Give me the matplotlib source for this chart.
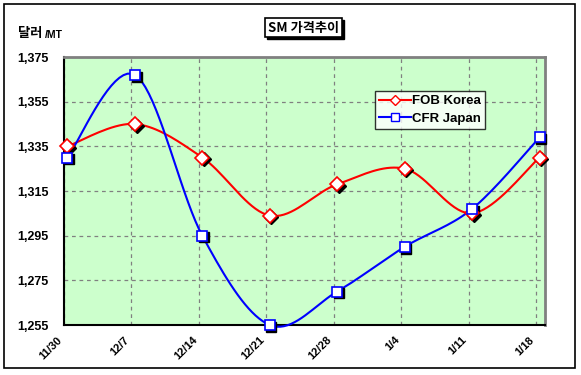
import numpy as np
import matplotlib
matplotlib.use('Agg')
import matplotlib.pyplot as plt
import matplotlib.transforms as mtransforms
from matplotlib.patches import Rectangle

plt.rcParams['font.family'] = ['Liberation Sans', 'Noto Sans CJK KR', 'DejaVu Sans']

dates = ['11/30', '12/7', '12/14', '12/21', '12/28', '1/4', '1/11', '1/18']
fob_korea = [1335, 1345, 1330, 1304, 1318, 1325, 1305, 1330]
cfr_japan = [1330, 1367, 1295, 1255, 1270, 1290, 1307, 1339]
yticks = [1255, 1275, 1295, 1315, 1335, 1355, 1375]


def smooth(x, y, n=20):
    # excel-like smoothed line (catmull-rom bezier)
    x = np.asarray(x, float)
    y = np.asarray(y, float)
    px = np.concatenate([[x[0]], x, [x[-1]]])
    py = np.concatenate([[y[0]], y, [y[-1]]])
    xs, ys = [], []
    t = np.linspace(0, 1, n)
    for i in range(1, len(px) - 2):
        p0 = np.array([px[i], py[i]])
        p3 = np.array([px[i + 1], py[i + 1]])
        p1 = p0 + (np.array([px[i + 1], py[i + 1]]) - np.array([px[i - 1], py[i - 1]])) / 6
        p2 = p3 - (np.array([px[i + 2], py[i + 2]]) - np.array([px[i], py[i]])) / 6
        b = ((1 - t) ** 3)[:, None] * p0 + (3 * (1 - t) ** 2 * t)[:, None] * p1 \
            + (3 * (1 - t) * t ** 2)[:, None] * p2 + (t ** 3)[:, None] * p3
        xs.extend(b[:, 0])
        ys.extend(b[:, 1])
    return np.array(xs), np.array(ys)


W, H = 581, 375
fig = plt.figure(figsize=(W / 100, H / 100), dpi=100)
fig.patches.append(Rectangle((4 / W, 7 / H), 571 / W, 364 / H, transform=fig.transFigure,
                             fill=False, edgecolor='black', linewidth=1.2))

ax = fig.add_axes([64 / W, 50 / H, 481 / W, 268 / H])
ax.set_facecolor('#ccffcc')

xpos = np.arange(len(dates)) + 0.05
shadow = mtransforms.offset_copy(ax.transData, fig=fig, x=1.2, y=-1.2, units='points')

for vals, col, mk, ms, lab in [(fob_korea, 'red', 'D', 7, 'FOB Korea'),
                               (cfr_japan, 'blue', 's', 7.5, 'CFR Japan')]:
    sx, sy = smooth(xpos, vals)
    ax.plot(sx, sy, color=col, linewidth=1.5, zorder=3, clip_on=False)
    ax.plot(xpos, vals, linestyle='none', marker=mk, markersize=ms, color='black',
            transform=shadow, zorder=4, clip_on=False)
    ax.plot(xpos, vals, linestyle='none', marker=mk, markersize=ms, markerfacecolor='white',
            markeredgecolor=col, markeredgewidth=1.2, zorder=5, clip_on=False)
    ax.plot([], [], color=col, linewidth=1.5, marker=mk, markersize=ms - 1.5,
            markerfacecolor='white', markeredgecolor=col, label=lab)

ax.set_xlim(0, 7.13)
ax.set_ylim(1255, 1375)
ax.set_xticks(range(len(dates)))
ax.set_xticklabels(dates, rotation=45, ha='right', va='top', fontsize=8, fontweight='bold')
ax.set_yticks(yticks)
ax.set_yticklabels(['{:,}'.format(v) for v in yticks], fontsize=9, fontweight='bold')
ax.tick_params(length=0, pad=11)
ax.tick_params(axis='x', pad=7)
ax.grid(True, color='#808080', linestyle=(0, (3, 3)), linewidth=0.9)

for s in ['top', 'right']:
    ax.spines[s].set_color('#808080')
    ax.spines[s].set_linewidth(2)
for s in ['left', 'bottom']:
    ax.spines[s].set_color('black')
    ax.spines[s].set_linewidth(1.5)

leg = ax.legend(loc='upper left', bbox_to_anchor=(311 / 481, 1 - 34 / 268), fontsize=9.5,
                frameon=True, fancybox=False, edgecolor='black', borderpad=0.3,
                handlelength=2.4, handletextpad=0.1, labelspacing=0.4, borderaxespad=0)
leg.get_frame().set_linewidth(1)
leg.get_frame().set_facecolor('white')
for t in leg.get_texts():
    t.set_fontweight('bold')

# title box with shadow
fig.patches.append(Rectangle((267 / W, 1 - 39 / H), 77 / W, 19 / H, transform=fig.transFigure,
                             facecolor='black', edgecolor='black'))
fig.patches.append(Rectangle((265 / W, 1 - 37 / H), 77 / W, 19 / H, transform=fig.transFigure,
                             facecolor='white', edgecolor='black', linewidth=1.2))
fig.text(303.5 / W, 1 - 28 / H, 'SM 가격추이', ha='center', va='center', fontsize=9.5,
         fontweight='bold', family=['Noto Sans CJK KR', 'DejaVu Sans'])
fig.text(18 / W, 1 - 33 / H, '달러', ha='left', va='center', fontsize=9.5, fontweight='bold',
         family=['Noto Sans CJK KR', 'DejaVu Sans'])
fig.text(45 / W, 1 - 35 / H, '/MT', ha='left', va='center', fontsize=7.5, fontweight='bold')

fig.savefig('out.png', dpi=100)
